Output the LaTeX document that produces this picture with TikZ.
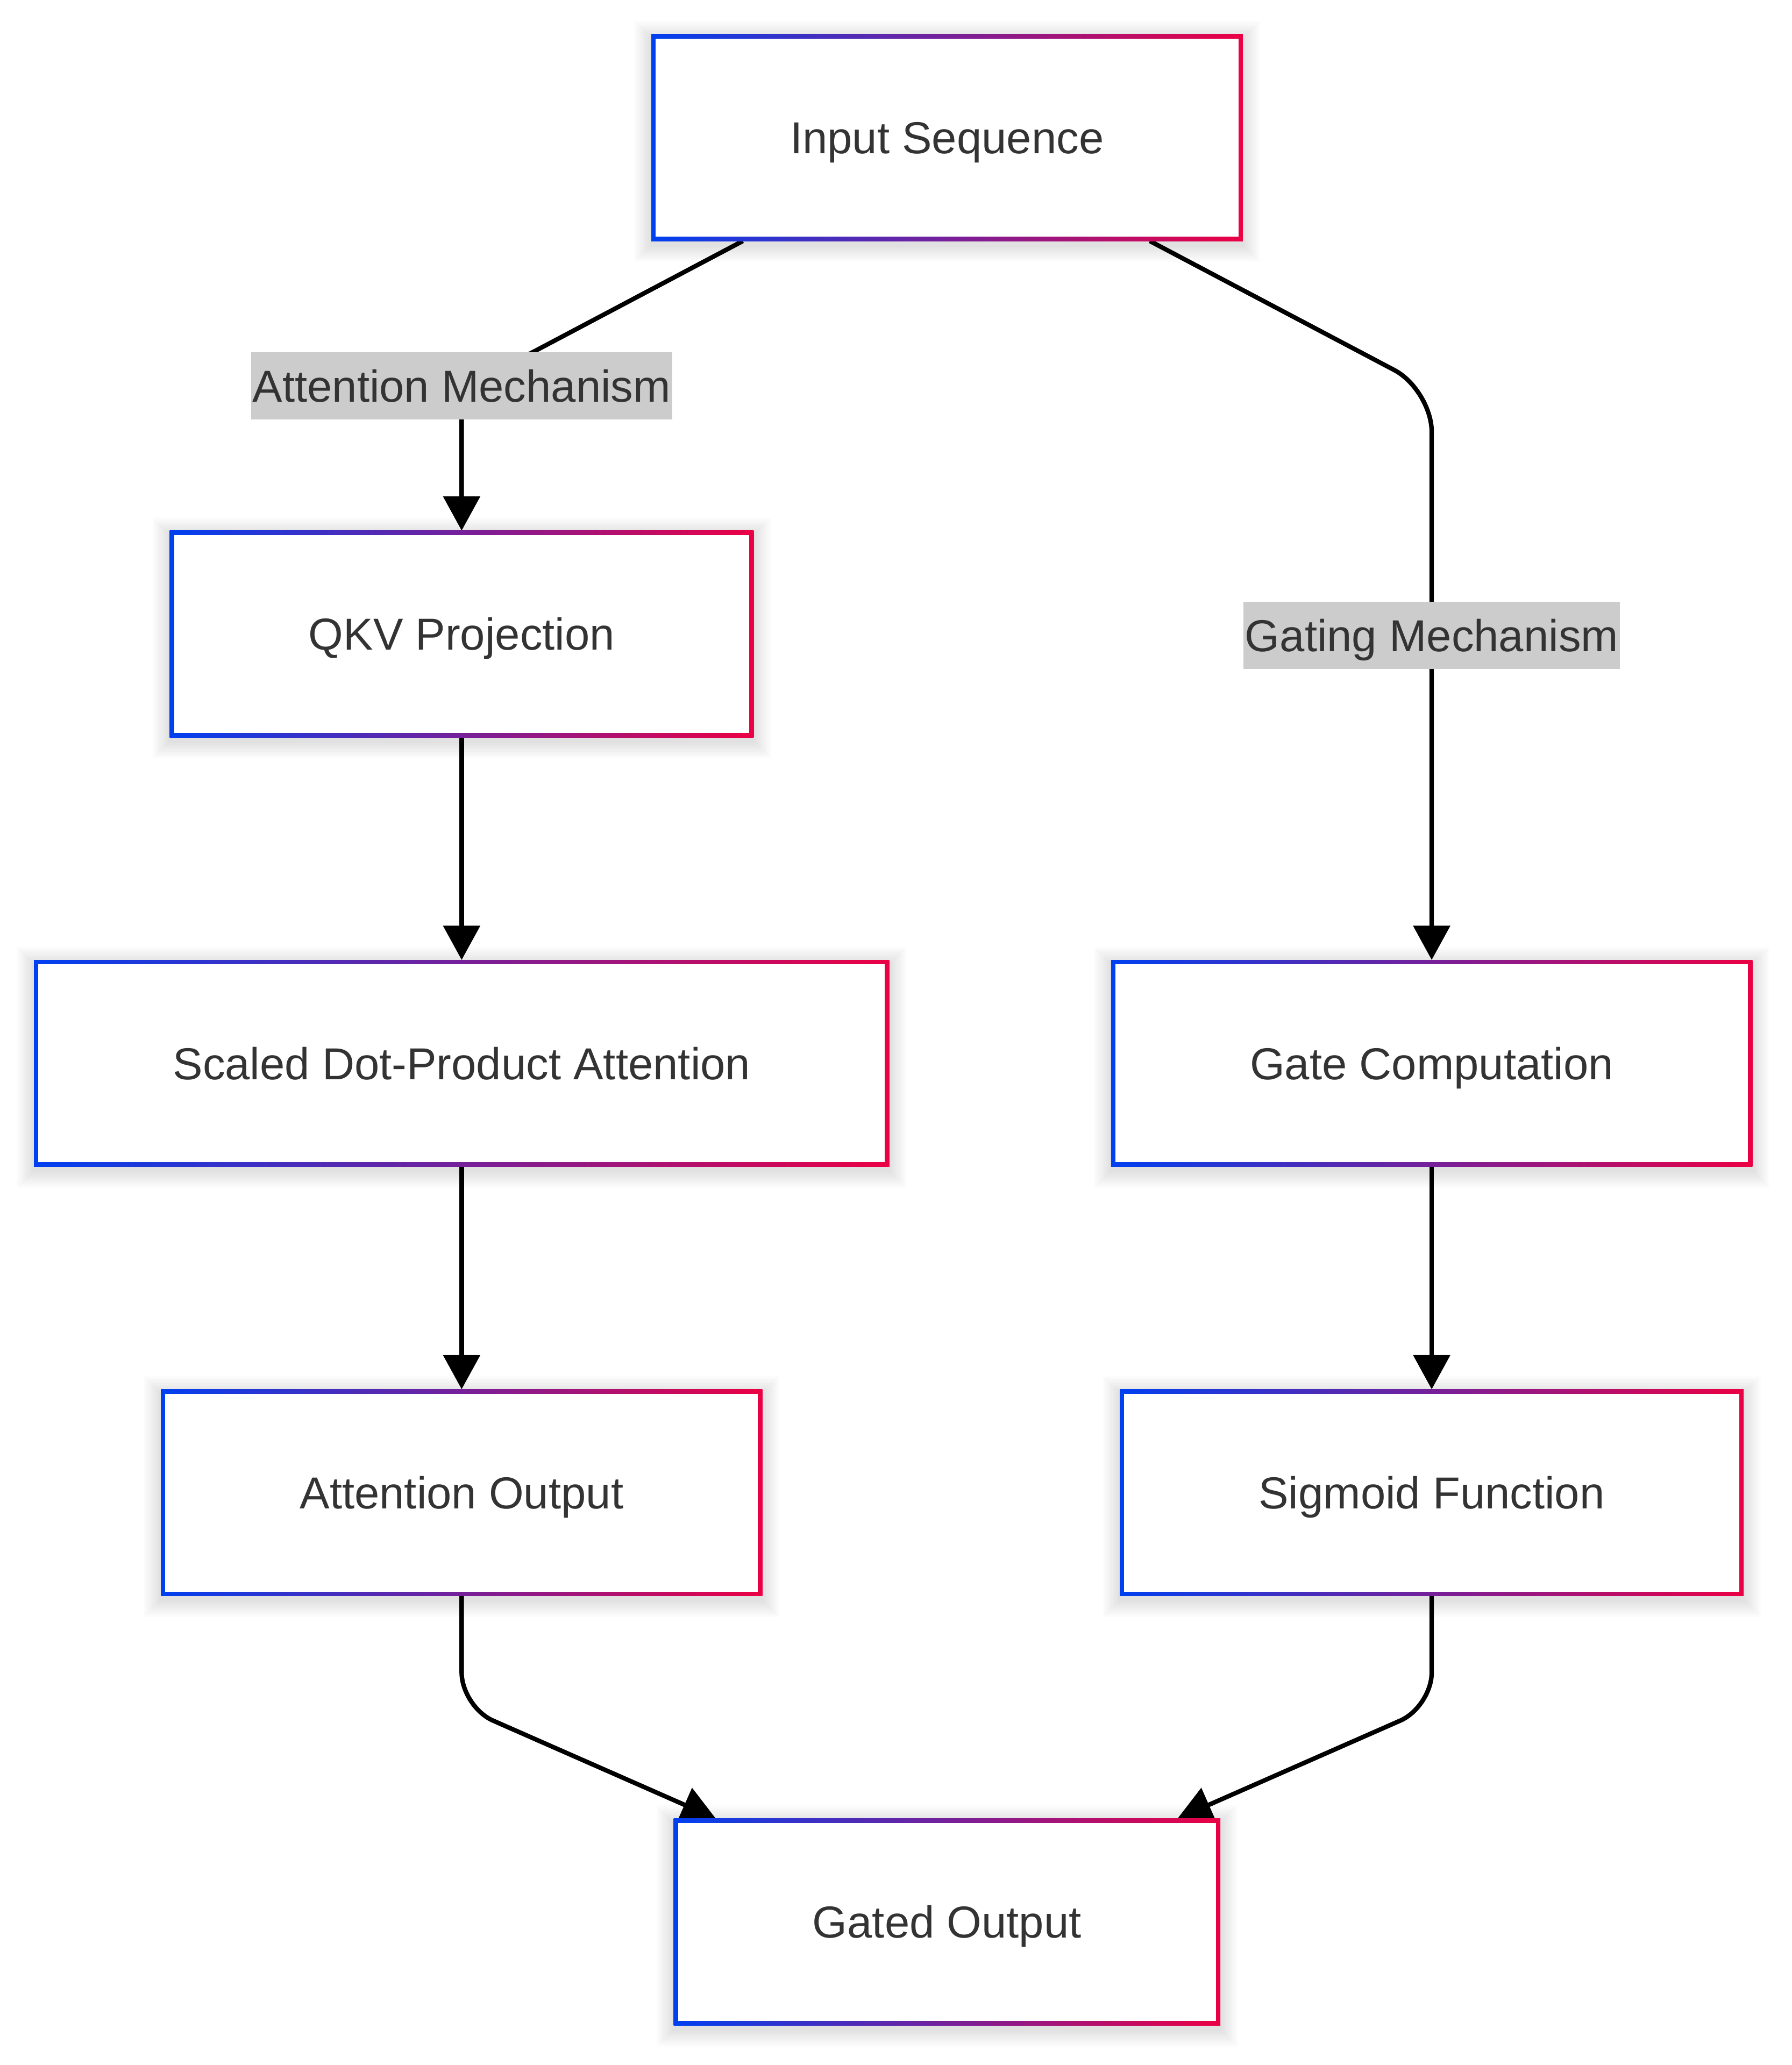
\documentclass[tikz,border=0pt]{standalone}
\usepackage{fontspec}
\setmainfont{Liberation Sans}
\usetikzlibrary{arrows.meta}
\definecolor{gl}{RGB}{0,64,240}
\definecolor{gr}{RGB}{235,0,68}
\definecolor{txt}{RGB}{51,51,51}
\definecolor{lbl}{RGB}{204,204,204}
\pgfdeclarelayer{shadowlayer}
\pgfdeclarelayer{edgelayer}
\pgfsetlayers{shadowlayer,edgelayer,main}
\tikzset{
  box/.style={fill=white, outer sep=0pt, inner xsep=52.75pt, inner ysep=0pt,
    minimum height=78.5pt, text height=12.2pt, text depth=0pt,
    font=\fontsize{17}{20}\selectfont, text=txt,
    path picture={
      \shade[left color=gl,right color=gr] (path picture bounding box.south west) rectangle (path picture bounding box.north east);
      \fill[white] ([shift={(1.7pt,1.7pt)}]path picture bounding box.south west) rectangle ([shift={(-1.7pt,-1.7pt)}]path picture bounding box.north east);
    }},
  elabel/.style={fill=lbl, outer sep=0pt, inner xsep=0.6pt, inner ysep=0pt,
    minimum height=25.6pt, text height=12.2pt, text depth=0pt,
    font=\fontsize{17}{20}\selectfont, text=txt},
  conn/.style={draw=black, line width=1.7pt, -{Triangle[length=13pt,width=13.75pt]}},
}
\begin{document}
\begin{tikzpicture}[x=0.5pt,y=-0.5pt]
\useasboundingbox (0,0) rectangle (1360.2,1568);
% nodes
\node[box] (in)   at (719,104.5)    {Input Sequence};
\node[box] (qkv)  at (350.5,481.4)  {QKV Projection};
\node[box] (sdpa) at (350.5,807.4)  {Scaled Dot-Product Attention};
\node[box] (gate) at (1087,807.4)   {Gate Computation};
\node[box] (aout) at (350.5,1133.4) {Attention Output};
\node[box] (sig)  at (1087,1133.4)  {Sigmoid Function};
\node[box] (gout) at (719,1459.4)   {Gated Output};
% background and shadows
\begin{pgfonlayer}{shadowlayer}
\fill[white] (0,0) rectangle (1360.2,1568);
\foreach \n in {in,qkv,sdpa,gate,aout,sig,gout}{
  \foreach \k in {1,...,10}{
    \fill[black,opacity=0.011] ([shift={({-\k*0.65pt},{-\k*0.65pt-1.5pt})}]\n.south west) rectangle ([shift={({\k*0.65pt},{\k*0.65pt-1.5pt})}]\n.north east);
  }}
\end{pgfonlayer}
% corner coordinates
\coordinate (c1) at (350.5,296);
\coordinate (c2) at (1087,296);
\coordinate (c3) at (350.5,1296);
\coordinate (c4) at (1087,1296);
% edges
\begin{pgfonlayer}{edgelayer}
\draw[conn, rounded corners=10pt] ([xshift=-77.5pt]in.south) -- (c1) -- (qkv.north);
\draw[conn, rounded corners=16pt] ([xshift=77pt]in.south) -- (c2) -- (gate.north);
\draw[conn] (qkv.south) -- (sdpa.north);
\draw[conn] (sdpa.south) -- (aout.north);
\draw[conn] (gate.south) -- (sig.north);
\draw[conn, rounded corners=13pt] (aout.south) -- (c3) -- ([xshift=-87.75pt]gout.north);
\draw[conn, rounded corners=13pt] (sig.south) -- (c4) -- ([xshift=87.5pt]gout.north);
\end{pgfonlayer}
% edge labels
\node[elabel] (l1) at (350.5,293.1) {Attention Mechanism};
\node[elabel] (l2) at (1087,482.5) {Gating Mechanism};
\end{tikzpicture}
\end{document}
